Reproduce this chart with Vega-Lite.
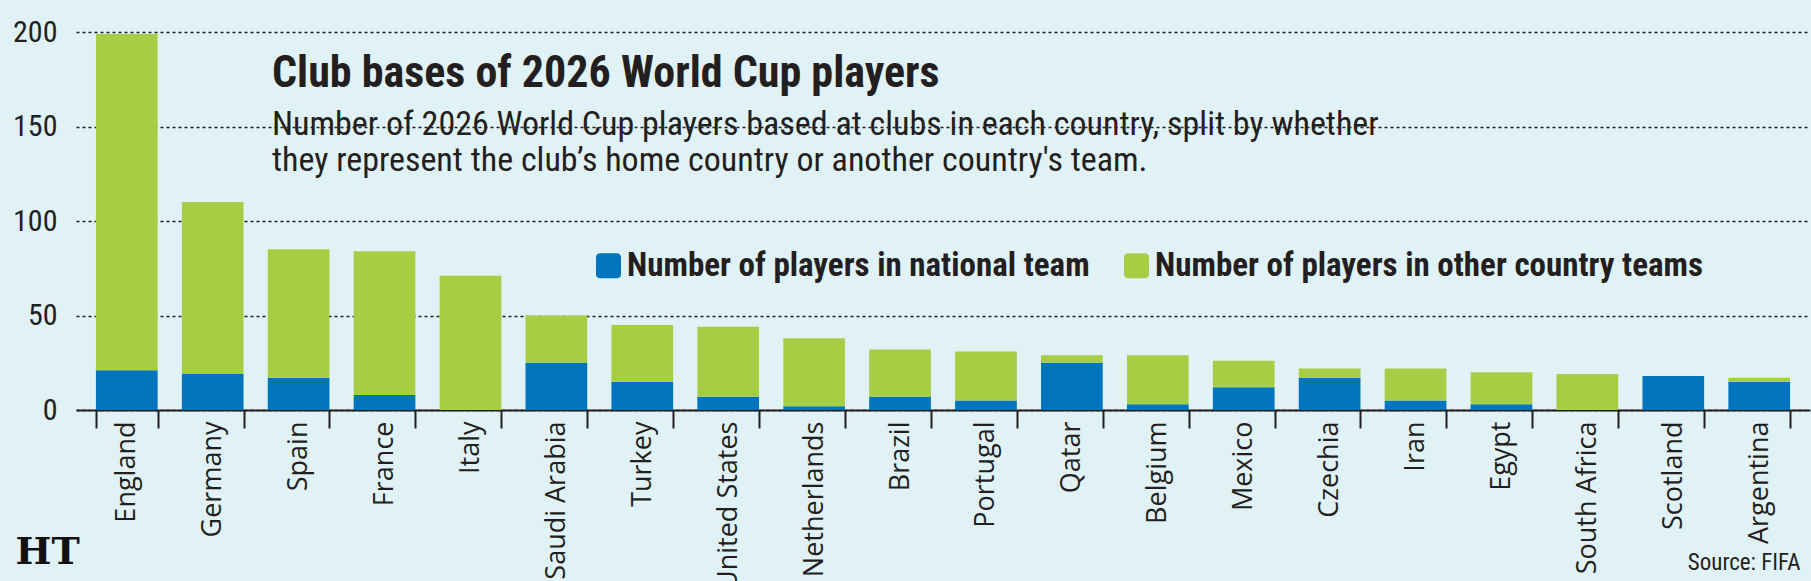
{
  "$schema": "https://vega.github.io/schema/vega-lite/v6.json",
  "width": 1734,
  "height": 378,
  "autosize": {"type": "none"},
  "padding": {"left": 76, "top": 32, "right": 1, "bottom": 171},
  "background": "#E0F2F5",
  "title": {
    "text": "Club bases of 2026 World Cup players",
    "subtitle": ["Number of 2026 World Cup players based at clubs in each country, split by whether", "they represent the club’s home country or another country's team."],
    "anchor": "start",
    "frame": "group",
    "orient": "top",
    "dx": 196,
    "offset": -161,
    "font": "Roboto Condensed",
    "fontSize": 44,
    "fontWeight": "bold",
    "color": "#231F20",
    "subtitleFont": "Roboto Condensed",
    "subtitleFontSize": 34,
    "subtitleColor": "#231F20",
    "subtitleLineHeight": 36,
    "subtitlePadding": 12
  },
  "data": {
    "values": [
      {"country": "England", "group": "Number of players in national team", "players": 21},
      {"country": "England", "group": "Number of players in other country teams", "players": 178},
      {"country": "Germany", "group": "Number of players in national team", "players": 19},
      {"country": "Germany", "group": "Number of players in other country teams", "players": 91},
      {"country": "Spain", "group": "Number of players in national team", "players": 17},
      {"country": "Spain", "group": "Number of players in other country teams", "players": 68},
      {"country": "France", "group": "Number of players in national team", "players": 8},
      {"country": "France", "group": "Number of players in other country teams", "players": 76},
      {"country": "Italy", "group": "Number of players in national team", "players": 0},
      {"country": "Italy", "group": "Number of players in other country teams", "players": 71},
      {"country": "Saudi Arabia", "group": "Number of players in national team", "players": 25},
      {"country": "Saudi Arabia", "group": "Number of players in other country teams", "players": 25},
      {"country": "Turkey", "group": "Number of players in national team", "players": 15},
      {"country": "Turkey", "group": "Number of players in other country teams", "players": 30},
      {"country": "United States", "group": "Number of players in national team", "players": 7},
      {"country": "United States", "group": "Number of players in other country teams", "players": 37},
      {"country": "Netherlands", "group": "Number of players in national team", "players": 2},
      {"country": "Netherlands", "group": "Number of players in other country teams", "players": 36},
      {"country": "Brazil", "group": "Number of players in national team", "players": 7},
      {"country": "Brazil", "group": "Number of players in other country teams", "players": 25},
      {"country": "Portugal", "group": "Number of players in national team", "players": 5},
      {"country": "Portugal", "group": "Number of players in other country teams", "players": 26},
      {"country": "Qatar", "group": "Number of players in national team", "players": 25},
      {"country": "Qatar", "group": "Number of players in other country teams", "players": 4},
      {"country": "Belgium", "group": "Number of players in national team", "players": 3},
      {"country": "Belgium", "group": "Number of players in other country teams", "players": 26},
      {"country": "Mexico", "group": "Number of players in national team", "players": 12},
      {"country": "Mexico", "group": "Number of players in other country teams", "players": 14},
      {"country": "Czechia", "group": "Number of players in national team", "players": 17},
      {"country": "Czechia", "group": "Number of players in other country teams", "players": 5},
      {"country": "Iran", "group": "Number of players in national team", "players": 5},
      {"country": "Iran", "group": "Number of players in other country teams", "players": 17},
      {"country": "Egypt", "group": "Number of players in national team", "players": 3},
      {"country": "Egypt", "group": "Number of players in other country teams", "players": 17},
      {"country": "South Africa", "group": "Number of players in national team", "players": 0},
      {"country": "South Africa", "group": "Number of players in other country teams", "players": 19},
      {"country": "Scotland", "group": "Number of players in national team", "players": 18},
      {"country": "Scotland", "group": "Number of players in other country teams", "players": 0},
      {"country": "Argentina", "group": "Number of players in national team", "players": 15},
      {"country": "Argentina", "group": "Number of players in other country teams", "players": 2}
    ]
  },
  "mark": {"type": "bar"},
  "encoding": {
    "x": {
      "field": "country",
      "type": "nominal",
      "sort": null,
      "scale": {"paddingInner": 0.282, "paddingOuter": 0.232},
      "axis": {
        "title": "Source: FIFA",
        "titleX": 1724,
        "titleY": 159,
        "titleAlign": "right",
        "titleBaseline": "alphabetic",
        "titleFont": "Roboto Condensed",
        "titleFontSize": 23,
        "titleFontWeight": "normal",
        "titleColor": "#231F20",
        "labelAngle": -90,
        "labelAlign": "right",
        "labelBaseline": "middle",
        "labelFont": "Open Sans",
        "labelFontSize": 27,
        "labelColor": "#231F20",
        "labelPadding": -7,
        "labelOverlap": false,
        "labelLimit": 400,
        "tickBand": "extent",
        "tickSize": 18,
        "tickWidth": 2,
        "tickColor": "#231F20",
        "domainColor": "#231F20",
        "domainWidth": 2
      }
    },
    "y": {
      "field": "players",
      "type": "quantitative",
      "stack": "zero",
      "scale": {"domain": [0, 200], "nice": false},
      "axis": {
        "title": "HT",
        "titleAngle": 0,
        "titleX": -61,
        "titleY": 531,
        "titleAlign": "left",
        "titleBaseline": "alphabetic",
        "titleFont": "DejaVu Serif",
        "titleFontSize": 38,
        "titleFontWeight": "bold",
        "titleColor": "#111111",
        "values": [0, 50, 100, 150, 200],
        "ticks": false,
        "domain": false,
        "labelFont": "Roboto Condensed",
        "labelFontSize": 30,
        "labelPadding": 19,
        "labelColor": "#231F20",
        "grid": true,
        "gridDash": [3, 3],
        "gridColor": "#231F20",
        "gridWidth": 1.5
      }
    },
    "color": {
      "field": "group",
      "type": "nominal",
      "scale": {
        "domain": ["Number of players in national team", "Number of players in other country teams"],
        "range": ["#0074BC", "#A6CE45"]
      },
      "legend": {
        "title": null,
        "orient": "none",
        "legendX": 516,
        "legendY": 217,
        "direction": "horizontal",
        "symbolType": "M -1 -0.65 Q -1 -1 -0.65 -1 L 0.65 -1 Q 1 -1 1 -0.65 L 1 0.65 Q 1 1 0.65 1 L -0.65 1 Q -1 1 -1 0.65 Z",
        "symbolSize": 625,
        "symbolStrokeWidth": 0,
        "symbolOpacity": 1,
        "labelFont": "Roboto Condensed",
        "labelFontSize": 33,
        "labelFontWeight": "bold",
        "labelColor": "#231F20",
        "labelOffset": 2,
        "columnPadding": 30,
        "labelLimit": 700
      }
    },
    "order": {"field": "group", "sort": "ascending"}
  },
  "config": {"view": {"stroke": null}}
}
